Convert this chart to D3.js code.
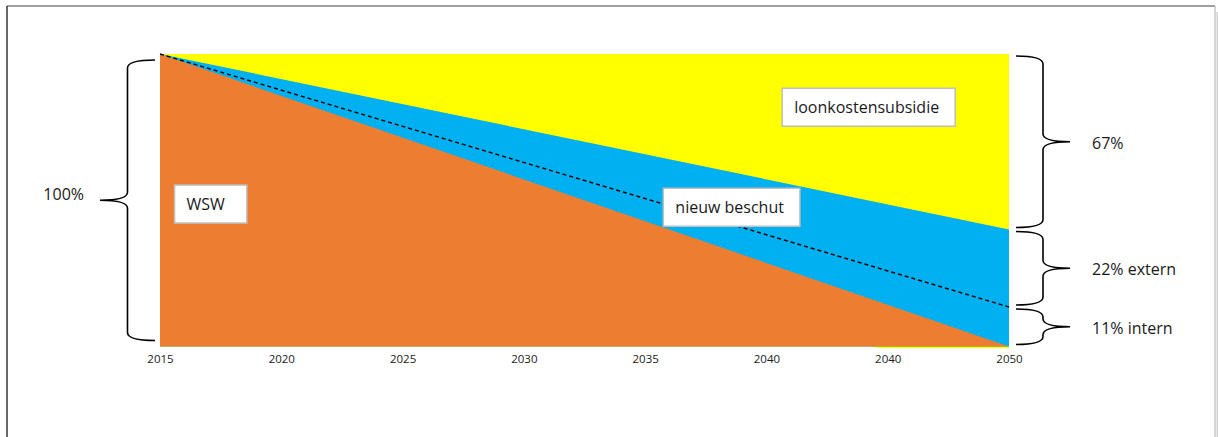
<!DOCTYPE html>
<html>
<head>
<meta charset="utf-8">
<script src="https://cdn.jsdelivr.net/npm/d3@7"></script>
<style>
    body { margin: 0; background: #fff; }
    svg { display: block; font-family: "Open Sans", sans-serif; }
</style>
</head>
<body>
<svg id="chart" width="1218" height="437"></svg>
<script>
// Shares (percent, cumulative from the bottom) at start and end year
const years = [2015, 2050];
const loonTop = [100, 100];      // loonkostensubsidie (top of stack)
const externTop = [100, 40];     // nieuw beschut extern
const internTop = [100, 13.5];   // dashed line: nieuw beschut intern
const wswTop = [100, 0];         // WSW

// the yellow layer peeks out a little below the base line at the end
const yellowBaseYears = [2015, 2044.2, 2044.8, 2050];
const yellowBase = [0, 0, -0.6, -0.6];

// x-axis labels (the second "2040" is how it appears in the original)
const tickYears = [2015, 2020, 2025, 2030, 2035, 2040, 2045, 2050];
const tickLabels = ["2015", "2020", "2025", "2030", "2035", "2040", "2040", "2050"];

// braces: label, from %, to %
const braceLabels = ["100%", "67%", "22% extern", "11% intern"];
const braceFrom = [0, 40, 13.5, 0];
const braceTo = [100, 100, 40, 13.5];
const braceSide = ["left", "right", "right", "right"];

// boxed labels: text, anchor year, anchor % (top-left of the box)
const boxLabels = ["WSW", "nieuw beschut", "loonkostensubsidie"];
const boxYears = [2015.6, 2035.75, 2040.65];
const boxPcts = [55.2, 54.1, 88.3];

const svg = d3.select("#chart");

const x = d3.scaleLinear().domain([2015, 2050]).range([160, 1009]);
const y = d3.scaleLinear().domain([0, 100]).range([346.5, 54]);

// outer frame
svg.append("line").attr("x1", 7).attr("y1", 6).attr("x2", 1215).attr("y2", 6)
    .attr("stroke", "#808080").attr("stroke-width", 1.5);
svg.append("line").attr("x1", 7).attr("y1", 6).attr("x2", 7).attr("y2", 437)
    .attr("stroke", "#333").attr("stroke-width", 1.5);
svg.append("line").attr("x1", 1215).attr("y1", 6).attr("x2", 1215).attr("y2", 437)
    .attr("stroke", "#b0b0b0").attr("stroke-width", 1);
svg.append("rect").attr("x", 1216.5).attr("y", 12).attr("width", 2).attr("height", 425)
    .attr("fill", "#cfcfcf");

// stacked areas
const yellowData = yellowBaseYears.map((yr, i) => ({ year: yr, lo: yellowBase[i], hi: 100 }));
svg.append("path")
    .datum(yellowData)
    .attr("fill", "#FFFF00")
    .attr("d", d3.area().x(d => x(d.year)).y0(d => y(d.lo)).y1(d => y(d.hi)));

function layer(top, color) {
    const data = years.map((yr, i) => ({ year: yr, v: top[i] }));
    svg.append("path")
        .datum(data)
        .attr("fill", color)
        .attr("d", d3.area().x(d => x(d.year)).y0(y(0)).y1(d => y(d.v)));
}
layer(externTop, "#00B0F0");
layer(wswTop, "#ED7D31");

// dashed line for intern/extern split
svg.append("path")
    .datum(years.map((yr, i) => ({ year: yr, v: internTop[i] })))
    .attr("fill", "none")
    .attr("stroke", "#000")
    .attr("stroke-width", 1.5)
    .attr("stroke-dasharray", "4,3")
    .attr("d", d3.line().x(d => x(d.year)).y(d => y(d.v)));

// x axis, labels only
const xAxis = d3.axisBottom(x)
    .tickValues(tickYears)
    .tickSize(0)
    .tickPadding(0)
    .tickFormat((d, i) => tickLabels[i]);
const axisG = svg.append("g")
    .attr("transform", "translate(0,355)")
    .call(xAxis);
axisG.select(".domain").remove();
axisG.selectAll("text")
    .attr("font-family", "Open Sans, sans-serif")
    .attr("font-size", 11.5)
    .attr("fill", "#1a1a1a");

// curly braces
function bracePath(xe, xt, ya, yb) {
    const xs = (xe + xt) / 2;
    const ym = (ya + yb) / 2;
    const r = Math.min(8, (yb - ya) / 4);
    return `M${xe},${ya} Q${xs},${ya} ${xs},${ya + r} L${xs},${ym - r} Q${xs},${ym} ${xt},${ym}`
        + ` Q${xs},${ym} ${xs},${ym + r} L${xs},${yb - r} Q${xs},${yb} ${xe},${yb}`;
}

braceLabels.forEach((lab, i) => {
    const left = braceSide[i] === "left";
    const inset = left ? 6 : 2;
    const ya = y(braceTo[i]) + inset;
    const yb = y(braceFrom[i]) - inset;
    const xe = left ? 155 : 1016;
    const xt = left ? 100 : 1070;
    svg.append("path")
        .attr("d", bracePath(xe, xt, ya, yb))
        .attr("fill", "none")
        .attr("stroke", "#000")
        .attr("stroke-width", 1.6);
    svg.append("text")
        .attr("x", left ? 84 : 1092)
        .attr("y", (ya + yb) / 2 + (left ? -6 : 1))
        .attr("text-anchor", left ? "end" : "start")
        .attr("dominant-baseline", "central")
        .attr("font-size", 16)
        .attr("fill", "#1a1a1a")
        .text(lab);
});

// boxed labels
boxLabels.forEach((lab, i) => {
    const bx = x(boxYears[i]);
    const by = y(boxPcts[i]);
    const g = svg.append("g");
    const t = g.append("text")
        .attr("x", bx + 12)
        .attr("y", by + 19)
        .attr("dominant-baseline", "central")
        .attr("font-size", 16)
        .attr("fill", "#1a1a1a")
        .text(lab);
    const w = t.node().getComputedTextLength();
    g.insert("rect", "text")
        .attr("x", bx)
        .attr("y", by)
        .attr("width", w + 24 + (i === 0 ? 10 : 4))
        .attr("height", 38)
        .attr("fill", "#fff")
        .attr("stroke", "#bfbfbf")
        .attr("stroke-width", 1.5);
});
</script>
</body>
</html>
